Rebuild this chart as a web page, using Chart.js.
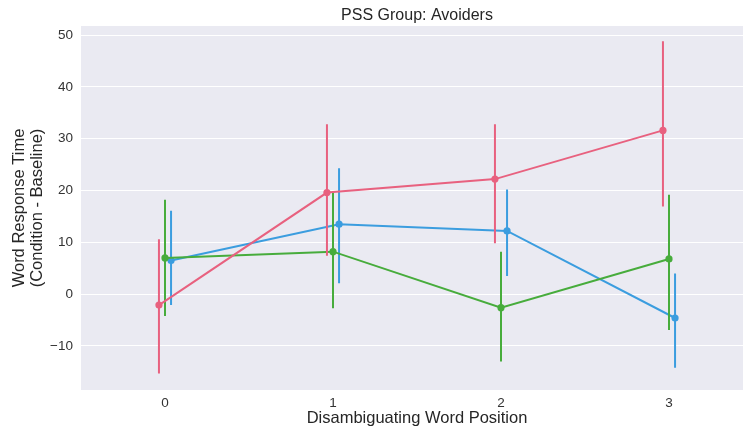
<!DOCTYPE html>
<html>
<head>
<meta charset="utf-8">
<script src="https://cdn.jsdelivr.net/npm/chart.js@4/dist/chart.umd.min.js"></script>
<style>
  html, body { margin: 0; padding: 0; background: #ffffff; }
  #wrap { width: 743px; height: 432px; overflow: hidden; position: relative; }
  canvas { display: block; }
</style>
</head>
<body>
<div id="wrap"><canvas id="chart" width="770" height="432"></canvas></div>
<script>
// Disambiguating word positions on the x axis
const positions = [0, 1, 2, 3];
const yTicks = [-10, 0, 10, 20, 30, 40, 50];
const titleText = 'PSS Group: Avoiders';

// Mean response time difference per condition, with confidence interval bounds
const seriesNames = ['Condition 1', 'Condition 2', 'Condition 3'];
const seriesColors = ['#e8617f', '#47ac3c', '#3b9ddf'];
const seriesOffsets = [-0.036, 0, 0.036];

const cond1Mean = [-2.1, 19.6, 22.2, 31.6];
const cond1Low  = [-15.3, 7.4, 9.8, 16.9];
const cond1High = [10.6, 32.8, 32.8, 48.8];

const cond2Mean = [7.0, 8.2, -2.6, 6.8];
const cond2Low  = [-4.2, -2.7, -13.0, -6.9];
const cond2High = [18.2, 19.5, 8.2, 19.2];

const cond3Mean = [6.5, 13.5, 12.2, -4.6];
const cond3Low  = [-2.1, 2.1, 3.5, -14.2];
const cond3High = [16.1, 24.3, 20.2, 4.0];

const means = [cond1Mean, cond2Mean, cond3Mean];
const lows = [cond1Low, cond2Low, cond3Low];
const highs = [cond1High, cond2High, cond3High];

const FONT = '"Liberation Sans", Arial, sans-serif';

// Tick labels use a true minus sign for negative numbers
const fmt = v => (v < 0 ? '\u2212' + Math.abs(v) : String(v));

const datasets = [];
means.forEach((m, s) => {
  const off = seriesOffsets[s];
  // vertical interval segments, separated by gaps
  const err = [];
  positions.forEach((p, i) => {
    err.push({ x: p + off, y: lows[s][i] });
    err.push({ x: p + off, y: highs[s][i] });
    err.push({ x: p + off, y: null });
  });
  datasets.push({
    label: seriesNames[s] + ' interval',
    data: err,
    borderColor: seriesColors[s],
    borderWidth: 2,
    pointRadius: 0,
    spanGaps: false,
    fill: false
  });
  datasets.push({
    label: seriesNames[s],
    data: positions.map((p, i) => ({ x: p + off, y: m[i] })),
    borderColor: seriesColors[s],
    backgroundColor: seriesColors[s],
    borderWidth: 2,
    pointRadius: 3.6,
    pointBorderWidth: 0,
    tension: 0,
    fill: false
  });
});

const plotBackground = {
  id: 'plotBackground',
  beforeDraw(chart) {
    const { ctx, chartArea: a } = chart;
    ctx.save();
    ctx.fillStyle = '#eaeaf2';
    ctx.fillRect(a.left, a.top, a.right - a.left, a.bottom - a.top);
    ctx.restore();
  }
};

const centeredTitle = {
  id: 'centeredTitle',
  afterDraw(chart) {
    const { ctx, chartArea: a } = chart;
    ctx.save();
    ctx.font = '16px ' + FONT;
    ctx.fillStyle = '#262626';
    ctx.textAlign = 'center';
    ctx.textBaseline = 'middle';
    ctx.fillText(titleText, (a.left + a.right) / 2, 16);
    ctx.restore();
  }
};

new Chart(document.getElementById('chart'), {
  type: 'line',
  data: { datasets },
  plugins: [plotBackground, centeredTitle],
  options: {
    responsive: false,
    animation: false,
    devicePixelRatio: 1,
    layout: { padding: { top: 26, right: 17, left: 0, bottom: 0 } },
    plugins: { legend: { display: false }, tooltip: { enabled: false }, title: { display: false } },
    scales: {
      x: {
        type: 'linear',
        min: -0.5,
        max: 3.5,
        grid: { display: false, drawTicks: false },
        border: { display: false },
        afterBuildTicks(scale) { scale.ticks = positions.map(v => ({ value: v })); },
        afterFit(scale) { scale.height = 42; },
        ticks: {
          color: '#333333',
          font: { family: FONT, size: 13.5 },
          padding: 5,
          maxRotation: 0,
          callback: v => fmt(v)
        },
        title: {
          display: true,
          text: 'Disambiguating Word Position',
          color: '#262626',
          font: { family: FONT, size: 16.5, lineHeight: 1.2 },
          padding: { top: 0, bottom: 4 }
        }
      },
      y: {
        min: -18.49,
        max: 51.74,
        grid: { color: '#ffffff', lineWidth: 1, drawTicks: false },
        border: { display: false },
        afterBuildTicks(scale) { scale.ticks = yTicks.map(v => ({ value: v })); },
        afterFit(scale) { scale.width = 81; },
        ticks: {
          color: '#333333',
          font: { family: FONT, size: 13.5 },
          padding: 8,
          callback: v => fmt(v)
        },
        title: {
          display: true,
          text: ['Word Response Time', '(Condition - Baseline)'],
          color: '#262626',
          font: { family: FONT, size: 16.5, lineHeight: 1.1 },
          padding: { top: 10, bottom: 0 }
        }
      }
    }
  }
});
</script>
</body>
</html>
